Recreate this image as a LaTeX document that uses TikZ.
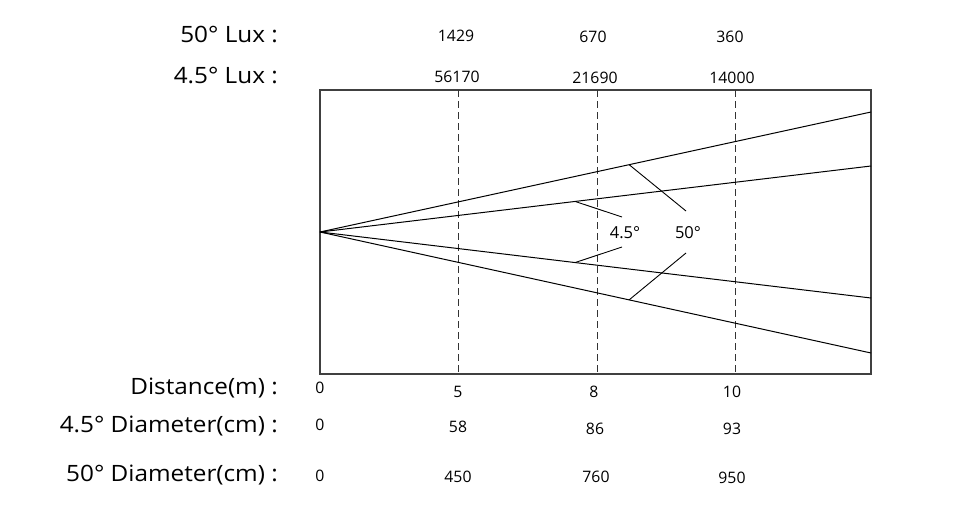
\documentclass[tikz,border=0pt]{standalone}
\usepackage{fontspec}
\setmainfont{Open Sans}
\usetikzlibrary{calc}
\begin{document}
\begin{tikzpicture}[x=1pt,y=-1pt,
  biglabel/.style={anchor=east,inner sep=0pt,font=\fontsize{22.5}{26}\selectfont\addfontfeature{FakeStretch=1.08}},
  val/.style={inner sep=0pt,font=\fontsize{15.8}{18}\selectfont},
  anglabel/.style={inner sep=0pt,font=\fontsize{16.5}{19}\selectfont},
  frame/.style={draw=black!75,line width=1.3pt},
  beam/.style={draw=black,line width=1pt},
  leader/.style={draw=black,line width=0.9pt},
  guide/.style={draw=black!80,line width=0.9pt,dash pattern=on 7pt off 4pt}]
\useasboundingbox (0,0) rectangle (961,514);
% frame
\coordinate (tl) at (320,90);
\coordinate (br) at (871,374);
\draw[frame] (tl) rectangle (br);
% guides
\foreach \n/\x in {a/458,b/597,c/735}{
  \coordinate (g\n t) at (\x,90);
  \coordinate (g\n b) at (\x,374);
  \draw[guide] (g\n t) -- (g\n b);
}
% beams
\coordinate (apex) at (320,232);
\coordinate (ou) at (871,112);
\coordinate (ol) at (871,353);
\coordinate (iu) at (871,166);
\coordinate (il) at (871,298);
\draw[beam] (apex) -- (ou);
\draw[beam] (apex) -- (ol);
\draw[beam] (apex) -- (iu);
\draw[beam] (apex) -- (il);
% angle labels and leaders
\node[anglabel] (l45) at (625,233) {4.5°};
\node[anglabel] (l50) at (688,233) {50°};
\coordinate (p50u) at ($(apex)!0.561!(ou)$);
\coordinate (p50l) at ($(apex)!0.561!(ol)$);
\coordinate (p45u) at ($(apex)!0.463!(iu)$);
\coordinate (p45l) at ($(apex)!0.463!(il)$);
\coordinate (e50u) at (686,211);
\coordinate (e50l) at (686,253);
\coordinate (e45u) at (622,217);
\coordinate (e45l) at (622,247);
\draw[leader] (p50u) -- (e50u);
\draw[leader] (p50l) -- (e50l);
\draw[leader] (p45u) -- (e45u);
\draw[leader] (p45l) -- (e45l);
% row labels
\node[biglabel] (r1) at (278,35) {50° Lux :};
\node[biglabel] (r2) at (278,76) {4.5° Lux :};
\node[biglabel] (r3) at (278,388) {Distance(m) :};
\node[biglabel] (r4) at (278,426) {4.5° Diameter(cm) :};
\node[biglabel] (r5) at (278,475) {50° Diameter(cm) :};
% lux values
\node[val] (v11) at (456,36) {1429};
\node[val] (v12) at (593,37) {670};
\node[val] (v13) at (730,37) {360};
\node[val] (v21) at (457,77) {56170};
\node[val] (v22) at (595,78) {21690};
\node[val] (v23) at (732,78) {14000};
% distance
\node[val] (d0) at (320,388) {0};
\node[val] (d1) at (458,392) {5};
\node[val] (d2) at (594,392) {8};
\node[val] (d3) at (732,392) {10};
% 4.5 diameter
\node[val] (s0) at (320,425) {0};
\node[val] (s1) at (458,427) {58};
\node[val] (s2) at (595,429) {86};
\node[val] (s3) at (732,429) {93};
% 50 diameter
\node[val] (w0) at (320,476) {0};
\node[val] (w1) at (458,477) {450};
\node[val] (w2) at (596,477) {760};
\node[val] (w3) at (732,478) {950};
\end{tikzpicture}
\end{document}
